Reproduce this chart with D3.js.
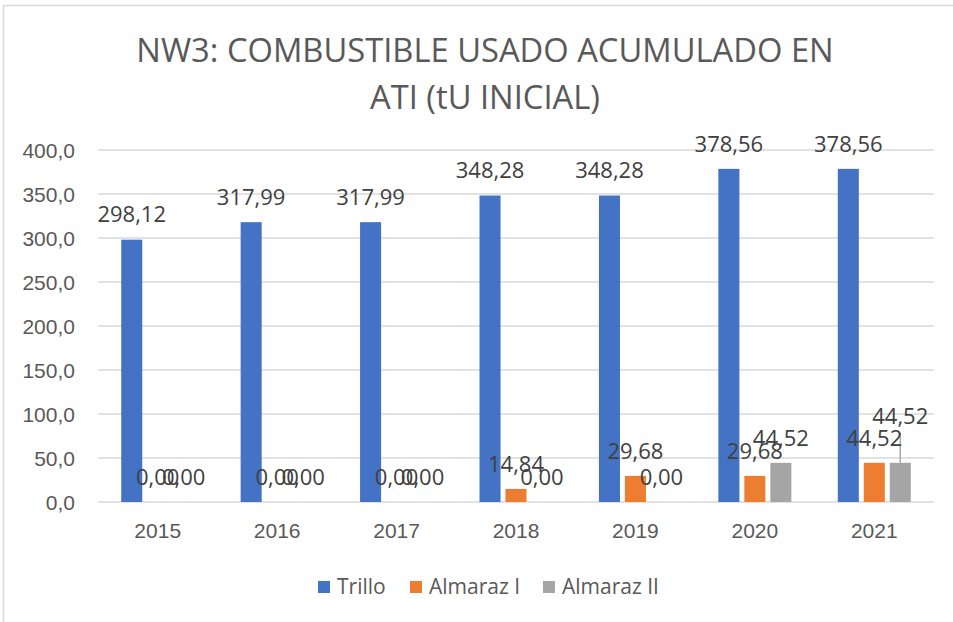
<!DOCTYPE html>
<html>
<head>
<meta charset="utf-8">
<script src="https://cdn.jsdelivr.net/npm/d3@7"></script>
<style>
  body { margin: 0; background: #fff; }
  svg { font-family: "Open Sans", "Noto Sans", sans-serif; }
</style>
</head>
<body>
<div id="chart"></div>
<script>
// data
var years = ["2015", "2016", "2017", "2018", "2019", "2020", "2021"];
var series = ["Trillo", "Almaraz I", "Almaraz II"];
var trillo = [298.12, 317.99, 317.99, 348.28, 348.28, 378.56, 378.56];
var almarazI = [0, 0, 0, 14.84, 29.68, 29.68, 44.52];
var almarazII = [0, 0, 0, 0, 0, 44.52, 44.52];
var yTicks = [0, 50, 100, 150, 200, 250, 300, 350, 400];
var colors = ["#4472c4", "#ed7d31", "#a5a5a5"];

var width = 953, height = 622;
var plot = { left: 98, right: 934, top: 150, bottom: 502 };

// spanish number format (comma decimal)
var es = d3.formatLocale({ decimal: ",", thousands: ".", grouping: [3], currency: ["", "€"] });
var fmtTick = es.format(".1f");
var fmtLabel = es.format(".2f");

var values = [trillo, almarazI, almarazII];
var rows = [];
years.forEach(function(y, i) {
	series.forEach(function(s, j) {
		rows.push({ year: y, series: s, idx: j, value: values[j][i] });
	});
});

var svg = d3.select("#chart").append("svg")
	.attr("width", width)
	.attr("height", height);

svg.append("rect")
	.attr("x", 0).attr("y", 0).attr("width", width).attr("height", height)
	.attr("fill", "#fff");

// chart border (only left and top visible in the crop)
svg.append("path")
	.attr("d", "M3.5," + height + "V5.5H" + width)
	.attr("fill", "none")
	.attr("stroke", "#d9d9d9")
	.attr("stroke-width", 1.5);

var x0 = d3.scaleBand().domain(years).range([plot.left, plot.right]);
var x1 = d3.scaleBand().domain(series).range([0, 73]).paddingInner(0.19);
var y = d3.scaleLinear().domain([0, 400]).range([plot.bottom, plot.top]);

function barX(d) { return x0(d.year) + x0.bandwidth() / 2 - 36.5 + x1(d.series); }

// gridlines
svg.append("g")
	.selectAll("line")
	.data(yTicks)
	.enter().append("line")
		.attr("x1", plot.left)
		.attr("x2", plot.right)
		.attr("y1", function(d) { return y(d); })
		.attr("y2", function(d) { return y(d); })
		.attr("stroke", "#d9d9d9")
		.attr("stroke-width", 1.5);

// y axis
var yAxis = d3.axisLeft(y).tickValues(yTicks).tickFormat(fmtTick).tickSize(0).tickPadding(23);
var gy = svg.append("g")
	.attr("transform", "translate(" + plot.left + ",0)")
	.call(yAxis);
gy.select(".domain").remove();
gy.selectAll("text")
	.attr("fill", "#595959")
	.style("font-size", "21px")
	.attr("dy", "0.35em");

// x axis
var xAxis = d3.axisBottom(x0).tickSize(0).tickPadding(21);
var gx = svg.append("g")
	.attr("transform", "translate(0," + plot.bottom + ")")
	.call(xAxis);
gx.select(".domain").remove();
gx.selectAll("text")
	.attr("fill", "#595959")
	.style("font-size", "21px");

// bars
svg.append("g")
	.selectAll("rect")
	.data(rows)
	.enter().append("rect")
		.attr("x", barX)
		.attr("width", x1.bandwidth())
		.attr("y", function(d) { return y(d.value); })
		.attr("height", function(d) { return plot.bottom - y(d.value); })
		.attr("fill", function(d) { return colors[d.idx]; });

// data labels; one label was dragged up in the original, with a leader line
var moved = { "2021|Almaraz II": 22 };
function labelY(d) {
	return y(d.value) - 25 - (moved[d.year + "|" + d.series] || 0);
}

svg.append("g")
	.selectAll("line")
	.data(rows.filter(function(d) { return moved[d.year + "|" + d.series]; }))
	.enter().append("line")
		.attr("x1", function(d) { return barX(d) + x1.bandwidth() / 2; })
		.attr("x2", function(d) { return barX(d) + x1.bandwidth() / 2; })
		.attr("y1", function(d) { return labelY(d) + 17; })
		.attr("y2", function(d) { return y(d.value); })
		.attr("stroke", "#a6a6a6")
		.attr("stroke-width", 1.5);

svg.append("g")
	.selectAll("text")
	.data(rows)
	.enter().append("text")
		.attr("x", function(d) { return barX(d) + x1.bandwidth() / 2; })
		.attr("y", labelY)
		.attr("dy", "0.35em")
		.attr("text-anchor", "middle")
		.attr("fill", "#404040")
		.style("font-size", "22px")
		.text(function(d) { return fmtLabel(d.value); });

// title
var title = svg.append("text")
	.attr("text-anchor", "middle")
	.attr("fill", "#595959")
	.style("font-size", "32.7px");
title.append("tspan").attr("x", 485).attr("y", 62).text("NW3: COMBUSTIBLE USADO ACUMULADO EN");
title.append("tspan").attr("x", 485).attr("y", 109).text("ATI (tU INICIAL)");

// legend
var legendX = [318, 410, 543];
var legend = svg.append("g")
	.selectAll("g")
	.data(series)
	.enter().append("g")
		.attr("transform", function(d, i) { return "translate(" + legendX[i] + ",581)"; });
legend.append("rect")
	.attr("width", 12)
	.attr("height", 12)
	.attr("fill", function(d, i) { return colors[i]; });
legend.append("text")
	.attr("x", 19)
	.attr("y", 6)
	.attr("dy", "0.35em")
	.attr("fill", "#595959")
	.style("font-size", "21px")
	.text(function(d) { return d; });
</script>
</body>
</html>
